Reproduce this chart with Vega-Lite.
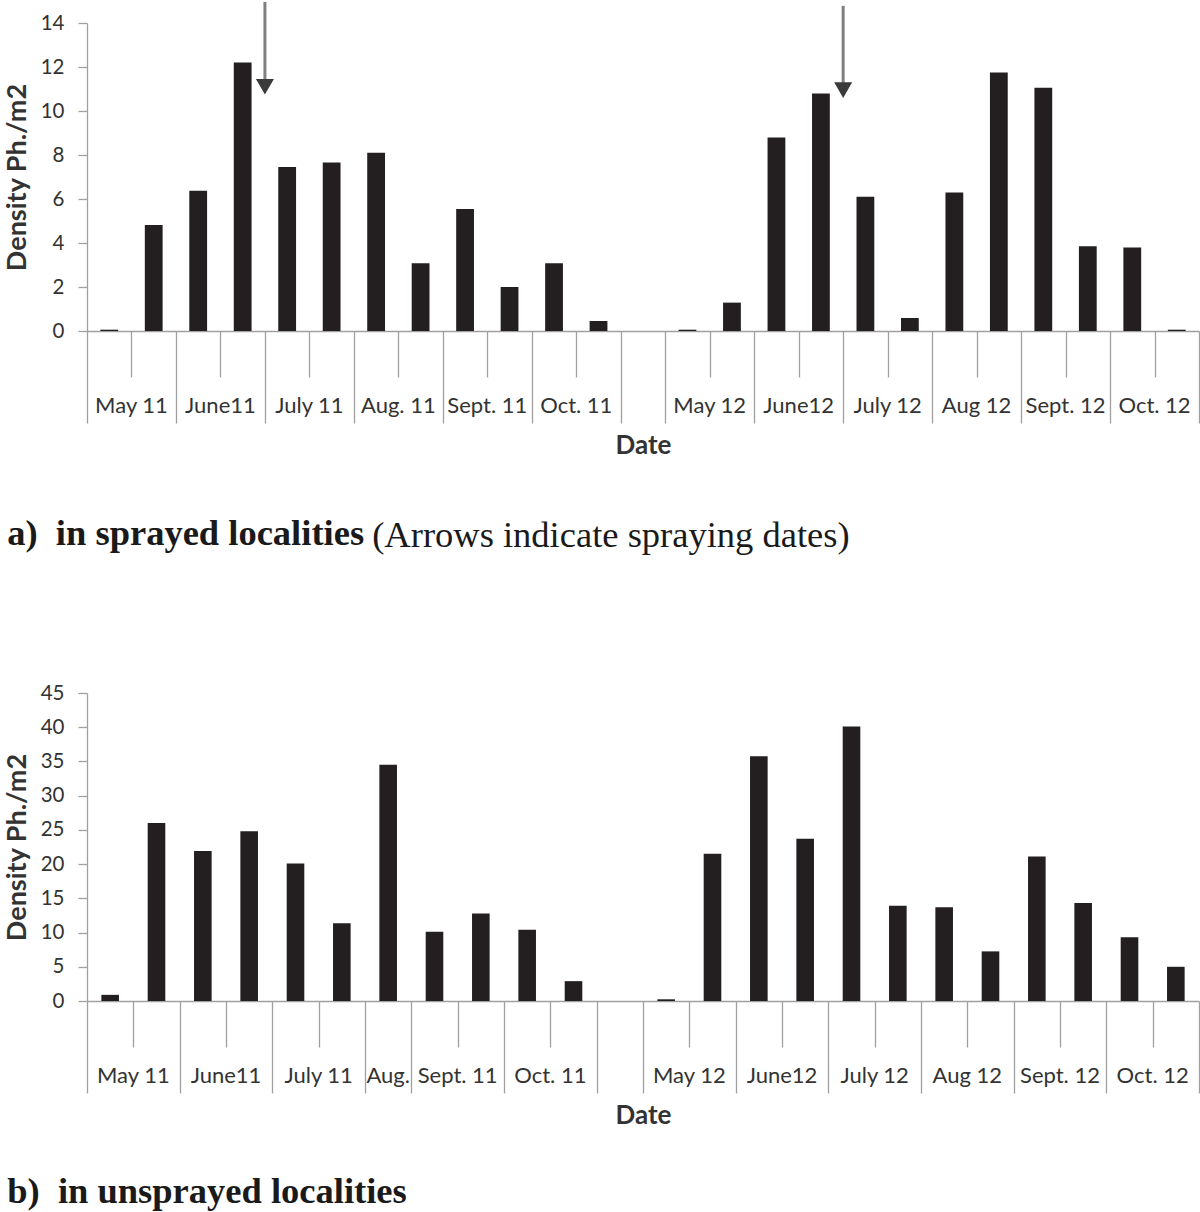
{
  "$schema": "https://vega.github.io/schema/vega-lite/v6.json",
  "background": "white",
  "padding": {"left": 3, "top": 0, "right": 0, "bottom": 0},
  "config": {
    "view": {"stroke": null},
    "font": "Lato",
    "axis": {
      "grid": false,
      "domainColor": "#a0a0a0",
      "domainWidth": 1.3,
      "tickColor": "#a0a0a0",
      "tickWidth": 1.3,
      "labelFont": "Lato",
      "labelFontSize": 22,
      "labelColor": "#333333",
      "titleFont": "Lato",
      "titleFontSize": 26,
      "titleFontWeight": "bold",
      "titleColor": "#333333"
    }
  },
  "datasets": {
    "sprayed": [
      {"slot": "May 11|1", "density": 0.06},
      {"slot": "May 11|2", "density": 4.82},
      {"slot": "June11|1", "density": 6.37},
      {"slot": "June11|2", "density": 12.2},
      {"slot": "July 11|1", "density": 7.46},
      {"slot": "July 11|2", "density": 7.66},
      {"slot": "Aug. 11|1", "density": 8.1},
      {"slot": "Aug. 11|2", "density": 3.08},
      {"slot": "Sept. 11|1", "density": 5.54},
      {"slot": "Sept. 11|2", "density": 2.0},
      {"slot": "Oct. 11|1", "density": 3.08},
      {"slot": "Oct. 11|2", "density": 0.45},
      {"slot": "May 12|1", "density": 0.06},
      {"slot": "May 12|2", "density": 1.29},
      {"slot": "June12|1", "density": 8.8},
      {"slot": "June12|2", "density": 10.8},
      {"slot": "July 12|1", "density": 6.1},
      {"slot": "July 12|2", "density": 0.59},
      {"slot": "Aug 12|1", "density": 6.29},
      {"slot": "Aug 12|2", "density": 11.75},
      {"slot": "Sept. 12|1", "density": 11.06},
      {"slot": "Sept. 12|2", "density": 3.85},
      {"slot": "Oct. 12|1", "density": 3.79},
      {"slot": "Oct. 12|2", "density": 0.06}
    ],
    "sprays": [
      {"slot": "July 11|1", "top": 14.96, "head": 11.1},
      {"slot": "July 12|1", "top": 14.78, "head": 10.95}
    ],
    "unsprayed": [
      {"slot": "May 11|1", "density": 0.9},
      {"slot": "May 11|2", "density": 26.0},
      {"slot": "June11|1", "density": 21.9},
      {"slot": "June11|2", "density": 24.8},
      {"slot": "July 11|1", "density": 20.1},
      {"slot": "July 11|2", "density": 11.35},
      {"slot": "Aug.|s", "density": 34.5},
      {"slot": "Sept. 11|1", "density": 10.1},
      {"slot": "Sept. 11|2", "density": 12.8},
      {"slot": "Oct. 11|1", "density": 10.4},
      {"slot": "Oct. 11|2", "density": 2.9},
      {"slot": "May 12|1", "density": 0.25},
      {"slot": "May 12|2", "density": 21.5},
      {"slot": "June12|1", "density": 35.75},
      {"slot": "June12|2", "density": 23.7},
      {"slot": "July 12|1", "density": 40.1},
      {"slot": "July 12|2", "density": 13.9},
      {"slot": "Aug 12|1", "density": 13.7},
      {"slot": "Aug 12|2", "density": 7.25},
      {"slot": "Sept. 12|1", "density": 21.1},
      {"slot": "Sept. 12|2", "density": 14.3},
      {"slot": "Oct. 12|1", "density": 9.3},
      {"slot": "Oct. 12|2", "density": 5.0}
    ]
  },
  "spacing": 129,
  "vconcat": [
    {
      "title": {"text": "(Arrows indicate spraying dates)", "orient": "bottom", "anchor": "start", "font": "Liberation Serif", "fontSize": 36.5, "fontWeight": "normal", "color": "#1a1a1a", "offset": 0, "dx": 369, "dy": -35},
      "vconcat": [
        {
          "width": 1112,
          "height": 308,
          "title": {"text": "a)\u00a0\u00a0in sprayed localities", "orient": "bottom", "anchor": "start", "font": "Liberation Serif", "fontSize": 36.5, "fontWeight": "bold", "color": "#1a1a1a", "offset": 58, "dx": 4},
          "layer": [
            {
              "data": {"name": "sprayed"},
              "mark": {"type": "bar", "color": "#231f20", "width": {"band": 0.4}},
              "encoding": {
                "x": {
                  "field": "slot", "type": "nominal",
                  "scale": {"domain": ["May 11|1", "May 11|2", "June11|1", "June11|2", "July 11|1", "July 11|2", "Aug. 11|1", "Aug. 11|2", "Sept. 11|1", "Sept. 11|2", "Oct. 11|1", "Oct. 11|2", "|s", "May 12|1", "May 12|2", "June12|1", "June12|2", "July 12|1", "July 12|2", "Aug 12|1", "Aug 12|2", "Sept. 12|1", "Sept. 12|2", "Oct. 12|1", "Oct. 12|2"], "paddingInner": 0, "paddingOuter": 0},
                  "axis": {"orient": "bottom", "title": null, "labels": false, "tickBand": "extent", "tickSize": {"condition": {"test": "indexof(datum.value + '', '|1') >= 0", "value": 46}, "value": 92}}
                },
                "y": {
                  "field": "density", "type": "quantitative",
                  "scale": {"domain": [0, 14]},
                  "axis": {"title": "Density Ph./m2", "titleFontSize": 27, "values": [0, 2, 4, 6, 8, 10, 12, 14], "tickSize": 9, "labelPadding": 14, "titlePadding": 9, "labelFontSize": 20.5}
                }
              }
            },
            {
              "data": {"name": "sprayed"},
              "mark": {"type": "text", "text": ""},
              "encoding": {
                "x": {
                  "field": "slot", "type": "nominal",
                  "axis": {"orient": "bottom", "ticks": false, "domain": false, "labelAngle": 0, "labelOverlap": false, "labelPadding": 64,
                    "labelExpr": "split(datum.value, '|')[1] == '2' ? '' : split(datum.value, '|')[0]",
                    "labelOffset": {"condition": {"test": "indexof(datum.value + '', '|1') >= 0", "value": 22.24}, "value": 0},
                    "title": "Date", "titlePadding": 16}
                }
              }
            },
            {
              "data": {"name": "sprays"},
              "mark": {"type": "rule", "color": "#808080", "strokeWidth": 3},
              "encoding": {
                "x": {"field": "slot", "type": "nominal", "bandPosition": 0, "axis": null},
                "y": {"field": "top", "type": "quantitative", "axis": null},
                "y2": {"field": "head"}
              }
            },
            {
              "data": {"name": "sprays"},
              "mark": {"type": "point", "shape": "triangle-down", "filled": true, "color": "#3a3a3a", "opacity": 1, "size": 324},
              "encoding": {
                "x": {"field": "slot", "type": "nominal", "bandPosition": 0, "axis": null},
                "y": {"field": "head", "type": "quantitative", "axis": null}
              }
            }
          ],
          "resolve": {"axis": {"x": "independent", "y": "independent"}}
        }
      ]
    },
    {
      "width": 1112,
      "height": 308,
      "title": {"text": "b)\u00a0\u00a0in unsprayed localities", "orient": "bottom", "anchor": "start", "font": "Liberation Serif", "fontSize": 36.5, "fontWeight": "bold", "color": "#1a1a1a", "offset": 46, "dx": 4},
      "layer": [
        {
          "data": {"name": "unsprayed"},
          "mark": {"type": "bar", "color": "#231f20", "width": {"band": 0.38}},
          "encoding": {
            "x": {
              "field": "slot", "type": "nominal",
              "scale": {"domain": ["May 11|1", "May 11|2", "June11|1", "June11|2", "July 11|1", "July 11|2", "Aug.|s", "Sept. 11|1", "Sept. 11|2", "Oct. 11|1", "Oct. 11|2", "|s", "May 12|1", "May 12|2", "June12|1", "June12|2", "July 12|1", "July 12|2", "Aug 12|1", "Aug 12|2", "Sept. 12|1", "Sept. 12|2", "Oct. 12|1", "Oct. 12|2"], "paddingInner": 0, "paddingOuter": 0},
              "axis": {"orient": "bottom", "title": null, "labels": false, "tickBand": "extent", "tickSize": {"condition": {"test": "indexof(datum.value + '', '|1') >= 0", "value": 46}, "value": 92}}
            },
            "y": {
              "field": "density", "type": "quantitative",
              "scale": {"domain": [0, 45]},
              "axis": {"title": "Density Ph./m2", "titleFontSize": 27, "values": [0, 5, 10, 15, 20, 25, 30, 35, 40, 45], "tickSize": 9, "labelPadding": 14, "titlePadding": 9, "labelFontSize": 20.5}
            }
          }
        },
        {
          "data": {"name": "unsprayed"},
          "mark": {"type": "text", "text": ""},
          "encoding": {
            "x": {
              "field": "slot", "type": "nominal",
              "axis": {"orient": "bottom", "ticks": false, "domain": false, "labelAngle": 0, "labelOverlap": false, "labelPadding": 64,
                "labelExpr": "split(datum.value, '|')[1] == '2' ? '' : split(datum.value, '|')[0]",
                "labelOffset": {"condition": {"test": "indexof(datum.value + '', '|1') >= 0", "value": 23.17}, "value": 0},
                "title": "Date", "titlePadding": 16}
            }
          }
        }
      ],
      "resolve": {"axis": {"x": "independent"}}
    }
  ]
}
